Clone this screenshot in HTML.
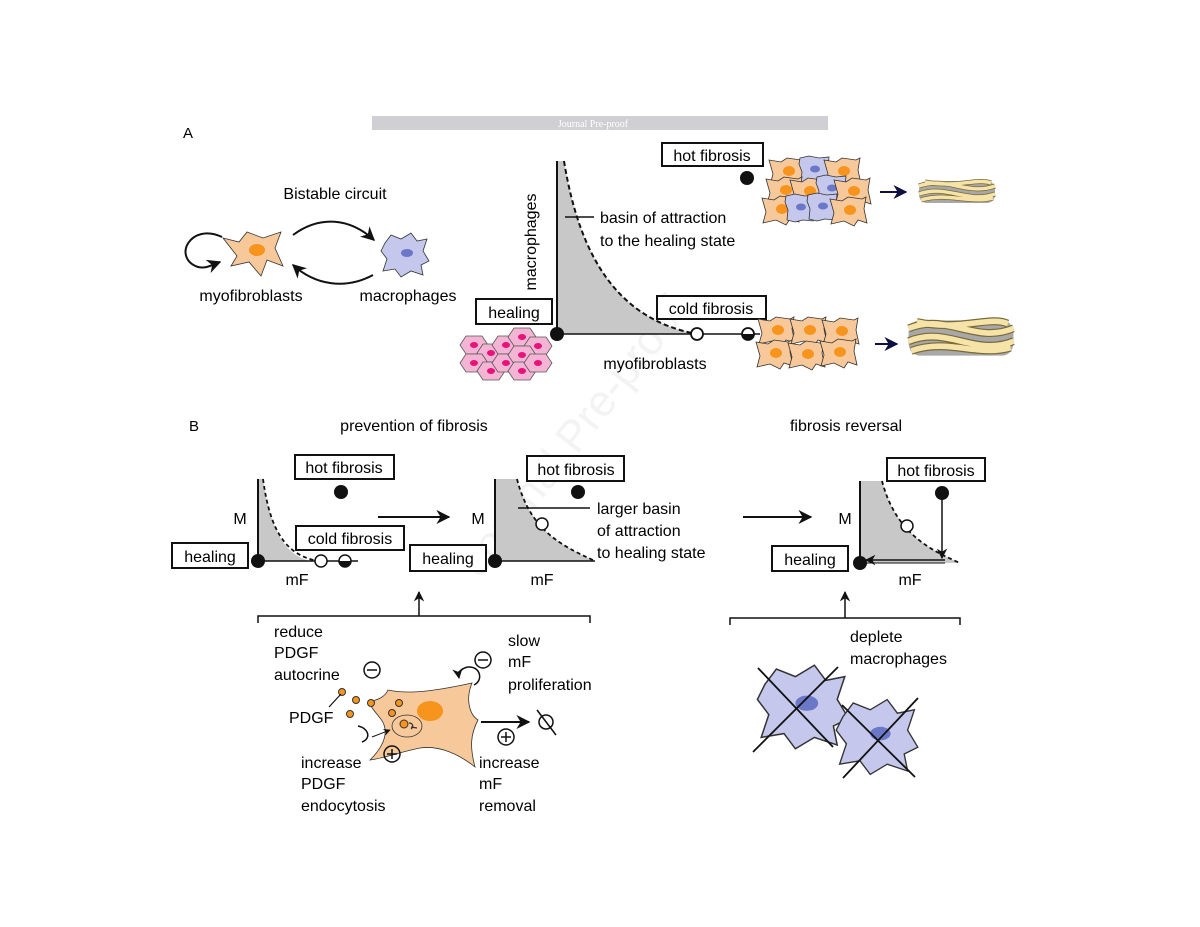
<!DOCTYPE html>
<html><head><meta charset="utf-8"><style>
html,body{margin:0;padding:0;background:#fff;}
svg{display:block;font-family:"Liberation Sans",Arial,sans-serif;}
</style></head><body>
<svg width="1200" height="927" viewBox="0 0 1200 927" xmlns="http://www.w3.org/2000/svg">
<defs>
<marker id="ah" viewBox="0 0 10 10" refX="9" refY="5" markerWidth="7" markerHeight="7" orient="auto-start-reverse"><path d="M0,0 L10,5 L0,10 L3,5 z" fill="#111"/></marker>
<marker id="ahn" viewBox="0 0 10 10" refX="9" refY="5" markerWidth="7" markerHeight="7" orient="auto"><path d="M0,0 L10,5 L0,10 L3,5 z" fill="#101040"/></marker>
<g id="mf"><path d="M-30,-14 L-14,-10 L-6,-20 L10,-14 L28,-20 L22,-4 L30,14 L14,8 L8,24 L-4,10 L-22,14 L-16,4 z" fill="#f7c99a" stroke="#333" stroke-width="0.8"/><ellipse cx="4" cy="-2" rx="8" ry="6" fill="#f7941d"/></g>
<g id="mac"><path d="M-20,-12 L-14,-20 L-4,-16 L6,-22 L12,-14 L22,-16 L18,-4 L24,6 L16,10 L18,20 L6,16 L-4,22 L-10,14 L-22,16 L-18,4 L-24,-4 z" fill="#c5c8ec" stroke="#333" stroke-width="0.8"/><ellipse cx="2" cy="-2" rx="6" ry="4" fill="#6b78c8"/></g>
<g id="cmf"><path d="M-18,-12 L-6,-10 L0,-14 L14,-12 L18,-14 L16,-2 L19,12 L10,9 L6,15 L-4,10 L-17,13 L-14,2 z" fill="#f7c99a" stroke="#333" stroke-width="0.8"/><ellipse cx="2" cy="-1" rx="6" ry="5" fill="#f7941d"/></g>
<g id="cmac"><path d="M-15,-12 L-6,-14 L4,-12 L14,-13 L13,-2 L16,8 L12,13 L2,12 L-6,14 L-14,12 L-13,2 L-16,-6 z" fill="#c5c8ec" stroke="#333" stroke-width="0.8"/><ellipse cx="0" cy="-1" rx="5" ry="3.5" fill="#6b78c8"/></g>
<g id="hex"><polygon points="-8,-9 8,-9 14,0 8,9 -8,9 -14,0" fill="#f4b5d5" stroke="#555" stroke-width="0.8"/><ellipse cx="0" cy="0" rx="4" ry="3" fill="#e8127a"/></g>
<g id="fib1"><rect x="-38" y="-11" width="76" height="22" rx="8" fill="#a8a8a8"/><path d="M-38,-6 C-10,-16 10,4 38,-6 M-38,2 C-10,-8 10,12 38,2 M-36,8 C-10,0 12,12 36,6 M-32,-10 C0,-4 20,-14 34,-9" stroke="#7a6a3a" stroke-width="5" fill="none"/><path d="M-38,-6 C-10,-16 10,4 38,-6 M-38,2 C-10,-8 10,12 38,2 M-36,8 C-10,0 12,12 36,6 M-32,-10 C0,-4 20,-14 34,-9" stroke="#f6e3a8" stroke-width="3.5" fill="none"/></g>
</defs>

<text x="0" y="0" transform="translate(585,445) rotate(-52)" font-size="44" fill="#f3f3f3" text-anchor="middle">Journal Pre-proof</text>

<rect x="372" y="116" width="456" height="14" fill="#d0d0d4"/>
<text x="593" y="127" font-family="Liberation Serif,serif" font-size="10" fill="#fff" text-anchor="middle">Journal Pre-proof</text>

<text x="183" y="138" font-size="15">A</text>
<text x="335" y="199" font-size="16" text-anchor="middle">Bistable circuit</text>
<use href="#mf" x="253" y="252"/>
<use href="#mac" x="405" y="255"/>
<path d="M222,237 C190,222 172,258 198,267 C206,269 212,265 220,262" fill="none" stroke="#111" stroke-width="2" marker-end="url(#ah)"/>
<path d="M293,235 C320,215 350,218 374,240" fill="none" stroke="#111" stroke-width="2" marker-end="url(#ah)"/>
<path d="M373,275 C345,290 315,285 293,265" fill="none" stroke="#111" stroke-width="2" marker-end="url(#ah)"/>
<text x="251" y="301" font-size="16" text-anchor="middle">myofibroblasts</text>
<text x="408" y="301" font-size="16" text-anchor="middle">macrophages</text>

<path d="M557,161 L564,161 C580,260 620,320 697,334 L557,334 z" fill="#c8c8c8"/>
<path d="M564,161 C580,260 620,320 697,334" fill="none" stroke="#111" stroke-width="2" stroke-dasharray="5,3"/>
<line x1="557" y1="161" x2="557" y2="334" stroke="#111" stroke-width="2"/>
<line x1="557" y1="334" x2="760" y2="334" stroke="#111" stroke-width="1.5"/>
<circle cx="557" cy="334" r="7" fill="#111"/>
<circle cx="697" cy="334" r="6" fill="#fff" stroke="#111" stroke-width="1.8"/>
<circle cx="748" cy="334" r="6" fill="#fff" stroke="#111" stroke-width="1.8"/>
<path d="M742,334 A6,6 0 0 0 754,334 z" fill="#111"/>
<text transform="translate(536,242) rotate(-90)" font-size="16" text-anchor="middle">macrophages</text>
<line x1="565" y1="217" x2="594" y2="217" stroke="#111" stroke-width="1.5"/>
<text x="600" y="223" font-size="16">basin of attraction</text>
<text x="600" y="246" font-size="16">to the healing state</text>
<rect x="476" y="299" width="76" height="25" fill="#fff" stroke="#111" stroke-width="2"/>
<text x="514" y="318" font-size="16" text-anchor="middle">healing</text>
<text x="655" y="369" font-size="16" text-anchor="middle">myofibroblasts</text>
<rect x="662" y="143" width="101" height="23" fill="#fff" stroke="#111" stroke-width="2"/>
<text x="712" y="161" font-size="16" text-anchor="middle">hot fibrosis</text>
<circle cx="747" cy="178" r="7" fill="#111"/>
<rect x="657" y="296" width="109" height="23" fill="#fff" stroke="#111" stroke-width="2"/>
<text x="711" y="314" font-size="16" text-anchor="middle">cold fibrosis</text>
<use href="#hex" x="474" y="345"/><use href="#hex" x="491" y="353"/><use href="#hex" x="506" y="345"/><use href="#hex" x="522" y="337"/><use href="#hex" x="538" y="346"/>
<use href="#hex" x="474" y="363"/><use href="#hex" x="491" y="371"/><use href="#hex" x="506" y="363"/><use href="#hex" x="522" y="355"/><use href="#hex" x="522" y="371"/><use href="#hex" x="538" y="363"/>
<!-- hot cluster -->
<use href="#cmf" x="787" y="172"/><use href="#cmac" x="815" y="170"/><use href="#cmf" x="842" y="172"/>
<use href="#cmf" x="784" y="191"/><use href="#cmf" x="808" y="192"/><use href="#cmac" x="832" y="189"/><use href="#cmf" x="852" y="192"/>
<use href="#cmf" x="780" y="210"/><use href="#cmac" x="801" y="208"/><use href="#cmac" x="823" y="207"/><use href="#cmf" x="848" y="211"/>
<line x1="880" y1="192" x2="906" y2="192" stroke="#101040" stroke-width="2" marker-end="url(#ahn)"/>
<use href="#fib1" x="957" y="192"/>
<!-- cold cluster -->
<use href="#cmf" x="776" y="331"/><use href="#cmf" x="808" y="331"/><use href="#cmf" x="840" y="332"/>
<use href="#cmf" x="774" y="354"/><use href="#cmf" x="806" y="355"/><use href="#cmf" x="838" y="353"/>
<line x1="875" y1="344" x2="897" y2="344" stroke="#101040" stroke-width="2" marker-end="url(#ahn)"/>
<g transform="translate(961,338) scale(1.38,1.6)"><use href="#fib1"/></g>

<text x="189" y="431" font-size="15">B</text>
<text x="414" y="431" font-size="16" text-anchor="middle">prevention of fibrosis</text>
<text x="846" y="431" font-size="16" text-anchor="middle">fibrosis reversal</text>

<path d="M258,479 L263,479 C270,530 285,555 310,561 L258,561 z" fill="#c8c8c8"/>
<path d="M263,479 C270,530 285,555 318,561" fill="none" stroke="#111" stroke-width="1.8" stroke-dasharray="4,3"/>
<line x1="258" y1="479" x2="258" y2="561" stroke="#111" stroke-width="2"/>
<line x1="258" y1="561" x2="358" y2="561" stroke="#111" stroke-width="1.5"/>
<circle cx="258" cy="561" r="7" fill="#111"/>
<circle cx="321" cy="561" r="6" fill="#fff" stroke="#111" stroke-width="1.5"/>
<circle cx="345" cy="561" r="6" fill="#fff" stroke="#111" stroke-width="1.5"/>
<path d="M339,561 A6,6 0 0 0 351,561 z" fill="#111"/>
<text x="240" y="524" font-size="16" text-anchor="middle">M</text>
<text x="297" y="585" font-size="16" text-anchor="middle">mF</text>
<rect x="172" y="543" width="76" height="25" fill="#fff" stroke="#111" stroke-width="2"/>
<text x="210" y="562" font-size="16" text-anchor="middle">healing</text>
<rect x="295" y="455" width="99" height="24" fill="#fff" stroke="#111" stroke-width="2"/>
<text x="344" y="473" font-size="16" text-anchor="middle">hot fibrosis</text>
<circle cx="341" cy="492" r="7" fill="#111"/>
<rect x="296" y="526" width="108" height="24" fill="#fff" stroke="#111" stroke-width="2"/>
<text x="350" y="544" font-size="16" text-anchor="middle">cold fibrosis</text>
<line x1="378" y1="517" x2="449" y2="517" stroke="#111" stroke-width="2" marker-end="url(#ah)"/>

<path d="M495,479 L517,479 C530,530 560,545 595,561 L495,561 z" fill="#c8c8c8"/>
<path d="M517,479 C530,530 560,545 595,561" fill="none" stroke="#111" stroke-width="1.8" stroke-dasharray="4,3"/>
<line x1="495" y1="479" x2="495" y2="561" stroke="#111" stroke-width="2"/>
<line x1="495" y1="561" x2="595" y2="561" stroke="#111" stroke-width="1.5"/>
<circle cx="495" cy="561" r="7" fill="#111"/>
<circle cx="542" cy="524" r="6" fill="#fff" stroke="#111" stroke-width="1.5"/>
<line x1="518" y1="508" x2="590" y2="508" stroke="#111" stroke-width="1.5"/>
<text x="478" y="524" font-size="16" text-anchor="middle">M</text>
<text x="542" y="585" font-size="16" text-anchor="middle">mF</text>
<rect x="410" y="545" width="76" height="26" fill="#fff" stroke="#111" stroke-width="2"/>
<text x="448" y="564" font-size="16" text-anchor="middle">healing</text>
<rect x="527" y="456" width="97" height="25" fill="#fff" stroke="#111" stroke-width="2"/>
<text x="576" y="475" font-size="16" text-anchor="middle">hot fibrosis</text>
<circle cx="578" cy="492" r="7" fill="#111"/>
<text x="597" y="514" font-size="16">larger basin</text>
<text x="597" y="536" font-size="16">of attraction</text>
<text x="597" y="558" font-size="16">to healing state</text>

<path d="M258,623 L258,616 L590,616 L590,623" fill="none" stroke="#111" stroke-width="1.5"/>
<line x1="419" y1="616" x2="419" y2="592" stroke="#111" stroke-width="1.5" marker-end="url(#ah)"/>
<text x="274" y="637" font-size="16">reduce</text>
<text x="274" y="658" font-size="16">PDGF</text>
<text x="274" y="680" font-size="16">autocrine</text>
<circle cx="372" cy="670" r="8" fill="none" stroke="#111" stroke-width="1.5"/><line x1="367" y1="670" x2="377" y2="670" stroke="#111" stroke-width="1.5"/>
<text x="508" y="646" font-size="16">slow</text>
<text x="508" y="667" font-size="16">mF</text>
<text x="508" y="690" font-size="16">proliferation</text>
<circle cx="483" cy="660" r="8" fill="none" stroke="#111" stroke-width="1.5"/><line x1="478" y1="660" x2="488" y2="660" stroke="#111" stroke-width="1.5"/>
<path d="M474,685 C484,680 480,666 468,667 C462,668 458,672 459,678" fill="none" stroke="#111" stroke-width="1.5" marker-end="url(#ah)"/>
<path d="M388,690 C410,695 440,690 472,683 C465,700 470,715 478,720 C470,735 470,748 475,767 C460,755 440,745 420,748 C400,752 385,758 370,760 C385,745 390,730 380,718 C375,712 370,705 368,702 C378,700 385,697 388,690 z" fill="#f7c99a" stroke="#333" stroke-width="0.8"/>
<ellipse cx="430" cy="711" rx="13" ry="10" fill="#f7941d"/>
<ellipse cx="407" cy="726" rx="15" ry="11" fill="none" stroke="#333" stroke-width="0.8"/>
<circle cx="404" cy="724" r="4" fill="#f7941d" stroke="#333" stroke-width="1"/>
<path d="M409,723 c4,0 5,4 2,6 M411,727 l6,1" fill="none" stroke="#333" stroke-width="1.2"/>
<path d="M358,726 C368,728 372,738 362,742" fill="none" stroke="#111" stroke-width="1.5"/>
<line x1="372" y1="737" x2="390" y2="730" stroke="#111" stroke-width="1" marker-end="url(#ah)"/>
<g fill="#f7941d" stroke="#333" stroke-width="1">
<circle cx="342" cy="692" r="3.5"/><circle cx="356" cy="700" r="3.5"/><circle cx="371" cy="703" r="3.5"/><circle cx="350" cy="714" r="3.5"/><circle cx="399" cy="703" r="3.5"/><circle cx="392" cy="713" r="3.5"/>
</g>
<line x1="341" y1="694" x2="329" y2="707" stroke="#111" stroke-width="1.2"/>
<text x="289" y="723" font-size="16">PDGF</text>
<circle cx="392" cy="754" r="8" fill="none" stroke="#111" stroke-width="1.5"/><path d="M387,754 h10 M392,749 v10" stroke="#111" stroke-width="1.5"/>
<line x1="481" y1="722" x2="529" y2="722" stroke="#111" stroke-width="2" marker-end="url(#ah)"/>
<circle cx="546" cy="722" r="7" fill="none" stroke="#111" stroke-width="1.5"/><line x1="537" y1="710" x2="556" y2="735" stroke="#111" stroke-width="1.5"/>
<circle cx="506" cy="737" r="8" fill="none" stroke="#111" stroke-width="1.5"/><path d="M501,737 h10 M506,732 v10" stroke="#111" stroke-width="1.5"/>
<text x="301" y="768" font-size="16">increase</text>
<text x="301" y="789" font-size="16">PDGF</text>
<text x="301" y="811" font-size="16">endocytosis</text>
<text x="479" y="768" font-size="16">increase</text>
<text x="479" y="789" font-size="16">mF</text>
<text x="479" y="811" font-size="16">removal</text>

<line x1="743" y1="517" x2="811" y2="517" stroke="#111" stroke-width="2" marker-end="url(#ah)"/>
<path d="M860,481 L882,481 C895,530 925,548 960,563 L860,563 z" fill="#c8c8c8"/>
<path d="M882,481 C895,530 925,548 960,563" fill="none" stroke="#111" stroke-width="1.8" stroke-dasharray="4,3"/>
<line x1="860" y1="481" x2="860" y2="563" stroke="#111" stroke-width="2"/>
<circle cx="907" cy="526" r="6" fill="#fff" stroke="#111" stroke-width="1.5"/>
<line x1="942" y1="493" x2="942" y2="558" stroke="#111" stroke-width="1.5" marker-end="url(#ah)"/>
<line x1="945" y1="560" x2="866" y2="560" stroke="#111" stroke-width="1.5" marker-end="url(#ah)"/>
<line x1="860" y1="563" x2="945" y2="563" stroke="#111" stroke-width="1"/>
<circle cx="942" cy="493" r="7" fill="#111"/>
<circle cx="860" cy="563" r="7" fill="#111"/>
<text x="845" y="524" font-size="16" text-anchor="middle">M</text>
<text x="910" y="585" font-size="16" text-anchor="middle">mF</text>
<rect x="772" y="546" width="76" height="25" fill="#fff" stroke="#111" stroke-width="2"/>
<text x="810" y="565" font-size="16" text-anchor="middle">healing</text>
<rect x="887" y="458" width="98" height="23" fill="#fff" stroke="#111" stroke-width="2"/>
<text x="936" y="476" font-size="16" text-anchor="middle">hot fibrosis</text>
<path d="M730,625 L730,618 L960,618 L960,625" fill="none" stroke="#111" stroke-width="1.5"/>
<line x1="845" y1="618" x2="845" y2="592" stroke="#111" stroke-width="1.5" marker-end="url(#ah)"/>
<text x="850" y="642" font-size="16">deplete</text>
<text x="850" y="664" font-size="16">macrophages</text>
<g transform="translate(803,707) scale(1.9)"><use href="#mac"/></g>
<g transform="translate(877,737) scale(1.7)"><use href="#mac"/></g>
<g stroke="#111" stroke-width="1.8">
<line x1="758" y1="668" x2="833" y2="747"/><line x1="838" y1="667" x2="753" y2="752"/>
<line x1="842" y1="705" x2="915" y2="777"/><line x1="918" y1="698" x2="843" y2="778"/>
</g>
</svg>
</body></html>
